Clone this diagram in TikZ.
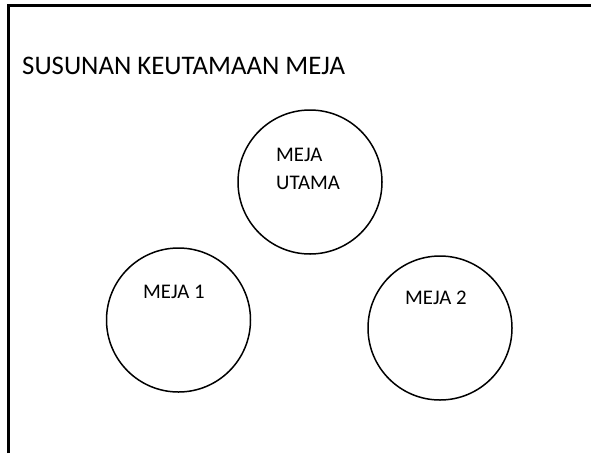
\documentclass[tikz,border=0pt]{standalone}
\usepackage{fontspec}
\setmainfont{Carlito}
\usepackage{tikz}
\usetikzlibrary{positioning}

\begin{document}
\begin{tikzpicture}
  [x=1pt,y=-1pt,
   meja/.style={draw, circle, line width=1.5pt, minimum size=144pt, inner sep=0pt},
   tulis/.style={anchor=base west, inner sep=0pt, font=\fontsize{20.8}{28}\selectfont, align=left}]
  \useasboundingbox (0,0) rectangle (591,453);

  % bingkai
  \coordinate (bawah) at (8,453);
  \coordinate (sudut) at (8,5);
  \coordinate (kanan) at (591,5);
  \draw[line width=3pt] (bawah) -- (sudut) -- (kanan);

  \node[tulis, font=\fontsize{26.8}{32}\selectfont] (judul) at (22,74) {SUSUNAN KEUTAMAAN MEJA};

  % meja
  \node[meja] (utama) at (310,182) {};
  \node[meja] (meja1) at (178.5,320) {};
  \node[meja] (meja2) at (440,328) {};

  \node[tulis] (tutama) at (276,189) {MEJA\\UTAMA};
  \node[tulis] (tmeja1) at (143,298) {MEJA 1};
  \node[tulis] (tmeja2) at (405,304) {MEJA 2};
\end{tikzpicture}
\end{document}
